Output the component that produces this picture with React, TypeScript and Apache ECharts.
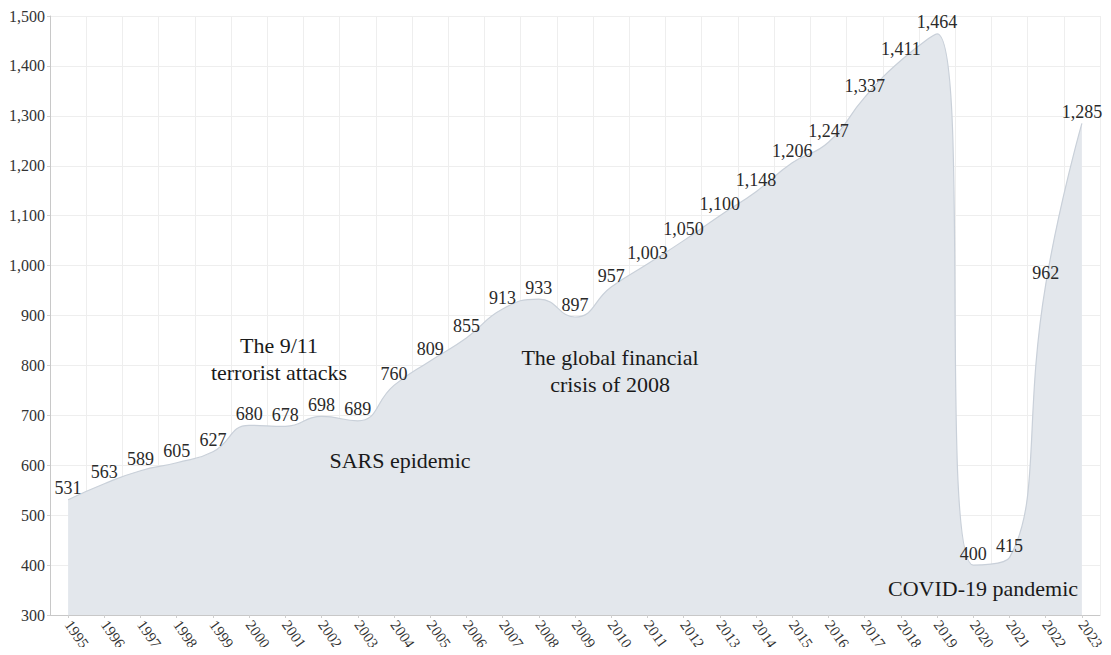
import React, { useEffect, useRef } from "react";
import * as echarts from "echarts";

const years = ["1995","1996","1997","1998","1999","2000","2001","2002","2003","2004","2005","2006","2007","2008","2009","2010","2011","2012","2013","2014","2015","2016","2017","2018","2019","2020","2021","2022","2023"];
const values = [531,563,589,605,627,680,678,698,689,760,809,855,913,933,897,957,1003,1050,1100,1148,1206,1247,1337,1411,1464,400,415,962,1285];

const annotations = [
  { lines: ["The 9/11", "terrorist attacks"], x: 279, y: 345 },
  { lines: ["SARS epidemic"], x: 400, y: 460 },
  { lines: ["The global financial", "crisis of 2008"], x: 610, y: 357 },
  { lines: ["COVID-19 pandemic"], x: 983, y: 588 },
];

const fmt = (v: number) => v.toLocaleString("en-US");
const FONT = "Liberation Serif";

export default function App() {
  const ref = useRef<HTMLDivElement>(null);
  useEffect(() => {
    if (!ref.current) return;
    const chart = echarts.init(ref.current, undefined, { renderer: "svg" });
    const graphics: any[] = [];
    annotations.forEach((a) => {
      a.lines.forEach((l, i) => {
        graphics.push({
          type: "text",
          x: a.x,
          y: a.y + i * 27,
          style: {
            text: l,
            fill: "#1a1a1a",
            fontFamily: FONT,
            fontSize: 22,
            textAlign: "center",
            textVerticalAlign: "middle",
          },
          z: 100,
        });
      });
    });
    chart.setOption({
      animation: false,
      backgroundColor: "#ffffff",
      textStyle: { fontFamily: FONT },
      grid: { left: 50, right: 11, top: 16, bottom: 40, containLabel: false },
      xAxis: {
        type: "category",
        data: years,
        boundaryGap: true,
        axisLine: { show: true, lineStyle: { color: "#c8c8c8" } },
        axisTick: { show: true, alignWithLabel: true, length: 3, lineStyle: { color: "#cfcfcf" } },
        axisLabel: {
          rotate: -55,
          interval: 0,
          color: "#333",
          fontSize: 15,
          fontFamily: FONT,
          margin: 7,
        },
        splitLine: { show: true, lineStyle: { color: "#eeeeee" } },
      },
      yAxis: {
        type: "value",
        min: 300,
        max: 1500,
        interval: 100,
        axisLine: { show: true, lineStyle: { color: "#c8c8c8" } },
        axisTick: { show: true, length: 3, lineStyle: { color: "#cfcfcf" } },
        axisLabel: {
          color: "#333",
          fontSize: 16,
          fontFamily: FONT,
          margin: 5,
          formatter: (v: number) => fmt(v),
        },
        splitLine: { show: true, lineStyle: { color: "#eeeeee" } },
      },
      series: [
        {
          type: "line",
          data: values,
          smooth: 0.5,
          symbol: "circle",
          symbolSize: 1,
          showSymbol: true,
          itemStyle: { color: "rgba(0,0,0,0)" },
          lineStyle: { color: "#c9d0d9", width: 1.2 },
          areaStyle: { color: "#e3e7ec", opacity: 1 },
          label: {
            show: true,
            position: "top",
            distance: 2,
            color: "#2a2a2a",
            fontSize: 18,
            fontFamily: FONT,
            formatter: (p: any) => fmt(p.value),
          },
          labelLayout: { hideOverlap: false },
          z: 2,
        },
      ],
      graphic: graphics,
    });
    return () => chart.dispose();
  }, []);
  return <div ref={ref} style={{ width: 1111, height: 655, margin: -8 }} />;
}
